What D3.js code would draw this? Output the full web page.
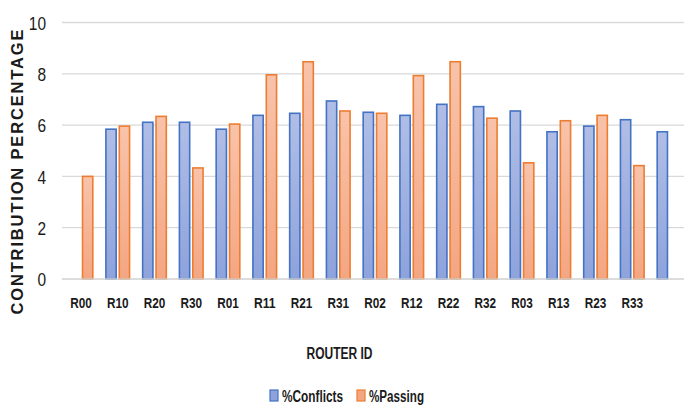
<!DOCTYPE html>
<html>
<head>
<meta charset="utf-8">
<script src="https://cdn.jsdelivr.net/npm/d3@7"></script>
<style>
  html, body { margin: 0; padding: 0; background: #ffffff; }
  svg { display: block; }
  text { font-family: "Liberation Sans", Arial, sans-serif; fill: #1a1a1a; }
</style>
</head>
<body>
<svg id="chart" width="684" height="405"></svg>
<script>
// Router IDs along the x axis (last group carries no label)
const routers = ["R00","R10","R20","R30","R01","R11","R21","R31","R02","R12","R22","R32","R03","R13","R23","R33",""];
// Share of conflicts per router (%); null where there is no bar
const conflicts = [null,5.84,6.11,6.11,5.84,6.38,6.46,6.94,6.50,6.38,6.81,6.72,6.55,5.74,5.96,6.21,5.74];
// Share of passing traffic per router (%)
const passing = [4.00,5.96,6.34,4.33,6.04,7.96,8.47,6.55,6.46,7.93,8.47,6.27,4.53,6.17,6.38,4.42,null];
const seriesNames = ["%Conflicts","%Passing"];
const yTicks = [0,2,4,6,8,10];

const svg = d3.select("#chart");
const plotLeft = 62.6, plotRight = 687.4, plotTop = 22.5, plotBottom = 279;

const x0 = d3.scaleBand().domain(d3.range(routers.length)).range([plotLeft, plotRight]).padding(0);
const x1 = d3.scaleBand().domain(seriesNames).range([5.8, x0.bandwidth() - 5.8]).paddingInner(0.12);
const y = d3.scaleLinear().domain([0, 10]).range([plotBottom, plotTop]);

// narrow text: squeeze the glyphs to a condensed width
function condense(sel, perChar) {
  sel.each(function () {
    const t = d3.select(this);
    const n = t.text().length;
    if (n > 0) t.attr("textLength", n * perChar).attr("lengthAdjust", "spacingAndGlyphs");
  });
}

// gradients for bar fills
const defs = svg.append("defs");
const grads = [
  { id: "gBlue", c1: "#b0bee6", c2: "#8ea3dc" },
  { id: "gOrange", c1: "#f8c3ab", c2: "#f4a682" }
];
grads.forEach(g => {
  const lgd = defs.append("linearGradient").attr("id", g.id).attr("x1", 0).attr("y1", 0).attr("x2", 0).attr("y2", 1);
  lgd.append("stop").attr("offset", "0%").attr("stop-color", g.c1);
  lgd.append("stop").attr("offset", "100%").attr("stop-color", g.c2);
});
const fills = { "%Conflicts": "url(#gBlue)", "%Passing": "url(#gOrange)" };
const strokes = { "%Conflicts": "#4472c4", "%Passing": "#ed7d31" };
const legendFill = { "%Conflicts": "#8ea3dc", "%Passing": "#f4a682" };

// gridlines
svg.append("g")
  .selectAll("line").data(yTicks.filter(t => t > 0)).join("line")
  .attr("x1", 62).attr("x2", 684)
  .attr("y1", d => y(d)).attr("y2", d => y(d))
  .attr("stroke", "#d9d9d9").attr("stroke-width", 1.3);

// y tick labels
const yAxis = d3.axisLeft(y).tickValues(yTicks).tickSize(0).tickPadding(0);
const yg = svg.append("g").attr("transform", "translate(46,0)").call(yAxis);
yg.select(".domain").remove();
yg.selectAll("text")
  .style("font-family", "'Liberation Sans', Arial, sans-serif")
  .style("font-size", "19px").attr("fill", "#1a1a1a").attr("dy", "0.36em")
  .call(condense, 8.6);

// bars
const rows = routers.map((r, i) => ({ i, values: [
  { key: "%Conflicts", v: conflicts[i] },
  { key: "%Passing", v: passing[i] }
]}));
const groups = svg.append("g").selectAll("g").data(rows).join("g")
  .attr("transform", d => `translate(${x0(d.i)},0)`);
groups.selectAll("rect").data(d => d.values.filter(v => v.v !== null)).join("rect")
  .attr("x", d => x1(d.key) + 0.75)
  .attr("width", x1.bandwidth() - 1.5)
  .attr("y", d => y(d.v))
  .attr("height", d => y(0) - y(d.v))
  .attr("fill", d => fills[d.key])
  .attr("stroke", d => strokes[d.key])
  .attr("stroke-width", 1.6);

// baseline
svg.append("line").attr("x1", 62).attr("x2", 684).attr("y1", plotBottom).attr("y2", plotBottom)
  .attr("stroke", "#d0d0d0").attr("stroke-width", 1.3);

// x tick labels
const xAxis = d3.axisBottom(x0).tickFormat(i => routers[i]).tickSize(0).tickPadding(0);
const xg = svg.append("g").attr("transform", "translate(0,298)").call(xAxis);
xg.select(".domain").remove();
xg.selectAll("text")
  .style("font-family", "'Liberation Sans', Arial, sans-serif")
  .style("font-size", "14px").style("font-weight", "bold").attr("fill", "#222")
  .call(condense, 7.2);

// axis titles
svg.append("text")
  .attr("transform", "translate(23,172) rotate(-90)")
  .attr("text-anchor", "middle")
  .attr("textLength", 285).attr("lengthAdjust", "spacing")
  .style("font-family", "'Liberation Sans', Arial, sans-serif")
  .style("font-size", "16.5px").style("font-weight", "bold")
  .text("CONTRIBUTION PERCENTAGE");

svg.append("text")
  .attr("x", 339.5).attr("y", 358.5)
  .attr("text-anchor", "middle")
  .attr("textLength", 66).attr("lengthAdjust", "spacingAndGlyphs")
  .style("font-size", "16px").style("font-weight", "bold")
  .text("ROUTER ID");

// legend
const legendItems = [
  { key: "%Conflicts", x: 270, w: 61 },
  { key: "%Passing", x: 357, w: 55 }
];
const lg = svg.append("g").selectAll("g").data(legendItems).join("g")
  .attr("transform", d => `translate(${d.x},390)`);
lg.append("rect").attr("width", 8).attr("height", 11)
  .attr("fill", d => legendFill[d.key]).attr("stroke", d => strokes[d.key]).attr("stroke-width", 1.2);
lg.append("text").attr("x", 12).attr("y", 11.5)
  .attr("textLength", d => d.w).attr("lengthAdjust", "spacingAndGlyphs")
  .style("font-size", "16px").style("font-weight", "bold")
  .text(d => d.key);
</script>
</body>
</html>
